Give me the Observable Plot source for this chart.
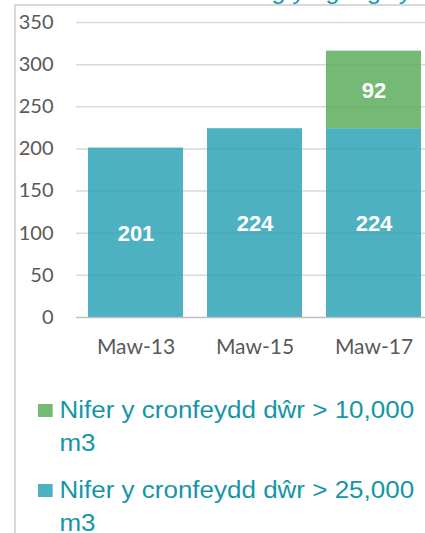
<!DOCTYPE html>
<html>
<head>
<meta charset="utf-8">
<script src="https://cdn.jsdelivr.net/npm/d3@7"></script>
<script src="https://cdn.jsdelivr.net/npm/@observablehq/plot@0.6"></script>
<style>
  html, body { margin: 0; padding: 0; background: #fff; }
  #wrap { position: relative; width: 425px; height: 533px; overflow: hidden; }
  #frame { position: absolute; left: 14px; top: 4px; width: 420px; height: 540px;
           border-left: 2px solid #d9d9d9; border-top: 2px solid #d9d9d9; }
  #title { position: absolute; left: 208px; top: -21px; white-space: nowrap;
           font: 22px "Liberation Sans", Arial, sans-serif; color: #1596a8;
           transform: scaleX(1.13); transform-origin: 0 0; }
  #chart { position: absolute; left: 0; top: 0; }
  #legend { position: absolute; left: 38px; top: 394px; width: 345px;
            font: 23px/33px "Liberation Sans", Arial, sans-serif; color: #1596a8;
            transform: scaleX(1.13); transform-origin: 0 0; }
  .item { position: relative; padding-left: 19px; margin-bottom: 14px; }
  .sw { position: absolute; left: 0; top: 10px; width: 13px; height: 13px; }
</style>
</head>
<body>
<div id="wrap">
  <div id="frame"></div>
  <div id="title">Rhwng y ag a gwybodaeth</div>
  <div id="chart"></div>
  <div id="legend"></div>
</div>
<script>
const categories = ["Maw-13", "Maw-15", "Maw-17"];
const seriesNames = ["Nifer y cronfeydd dŵr > 25,000 m3", "Nifer y cronfeydd dŵr > 10,000 m3"];
const over25000 = [201, 224, 224];
const over10000 = [null, null, 92];
const yTicks = [0, 50, 100, 150, 200, 250, 300, 350];
const colors = ["#2fa3b7", "#5cae5c"];

const rows = [];
categories.forEach((c, i) => {
  if (over25000[i] != null) rows.push({cat: c, series: seriesNames[0], value: over25000[i]});
  if (over10000[i] != null) rows.push({cat: c, series: seriesNames[1], value: over10000[i]});
});

const chart = Plot.plot({
  width: 425,
  height: 362,
  marginTop: 22,
  marginBottom: 45,
  marginLeft: 76,
  marginRight: -8,
  style: {fontFamily: "Lato, sans-serif", fontSize: "20px", color: "#595959", background: "transparent", overflow: "visible"},
  x: {domain: categories, paddingInner: 0.2, paddingOuter: 0.1, label: null},
  y: {domain: [0, 350], label: null},
  color: {domain: seriesNames, range: colors},
  marks: [
    Plot.ruleY(yTicks.filter(d => d > 0), {stroke: "#d9d9d9", strokeWidth: 1.5}),
    Plot.barY(rows, {x: "cat", y: "value", fill: "series", fillOpacity: 0.85, order: seriesNames}),
    Plot.ruleY([0], {stroke: "#bfbfbf", strokeWidth: 1.5}),
    Plot.text(rows, Plot.stackY({x: "cat", y: "value", z: "series", order: seriesNames, text: d => String(d.value),
      fill: "white", fontWeight: "bold", fontSize: 22, fontFamily: "'Liberation Sans', Arial, sans-serif", dy: 1})),
    Plot.axisY({ticks: yTicks, tickSize: 0, tickPadding: 23, fontSize: 20, fill: "#595959"}),
    Plot.axisX({tickSize: 0, tickPadding: 22, fontSize: 21, fill: "#595959"})
  ]
});
document.getElementById("chart").appendChild(chart);

const legend = document.getElementById("legend");
[1, 0].forEach(i => {
  const item = document.createElement("div");
  item.className = "item";
  const sw = document.createElement("span");
  sw.className = "sw";
  sw.style.background = colors[i];
  sw.style.opacity = 0.85;
  item.appendChild(sw);
  item.appendChild(document.createTextNode(seriesNames[i]));
  legend.appendChild(item);
});
</script>
</body>
</html>
